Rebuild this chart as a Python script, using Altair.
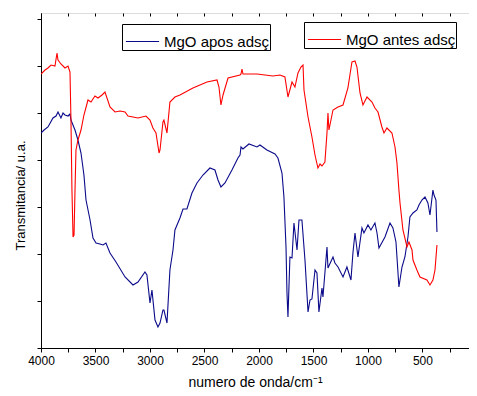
import altair as alt
import pandas as pd

# Red: MgO antes adsç
wn_red = [4000, 3963, 3936, 3908, 3872, 3853, 3844, 3817, 3780, 3752, 3734, 3725, 3716, 3706, 3697,
          3688, 3679, 3661, 3633, 3606, 3569, 3541, 3505, 3477, 3440, 3413, 3367, 3321, 3275, 3229,
          3202, 3110, 3037, 3000, 2973, 2945, 2917, 2908, 2881, 2872, 2844, 2817, 2771, 2725, 2606,
          2477, 2385, 2367, 2349, 2330, 2284, 2174, 2165, 2156, 2147, 2018, 1872, 1807, 1762, 1734,
          1697, 1670, 1642, 1615, 1596, 1587, 1550, 1514, 1486, 1459, 1440, 1422, 1395, 1376, 1367,
          1358, 1321, 1275, 1229, 1184, 1147, 1119, 1101, 1073, 1046, 1009, 963, 936, 908, 872,
          853, 826, 780, 752, 734, 716, 706, 679, 642, 624, 596, 587, 551, 523, 459, 431, 404, 385, 367]
t_red = [274, 278, 280, 283, 282, 295, 288, 284, 280, 282, 276, 228, 158, 111, 113,
         158, 198, 208, 218, 233, 248, 246, 252, 250, 253, 256, 241, 236, 237, 236,
         232, 230, 232, 228, 220, 215, 195, 198, 226, 228, 215, 246, 251, 253, 260,
         266, 268, 261, 243, 253, 270, 273, 274, 279, 274, 274, 272, 273, 271, 251,
         266, 261, 275, 281, 283, 258, 231, 211, 193, 180, 184, 182, 186, 215, 235,
         218, 238, 241, 243, 260, 286, 287, 281, 255, 243, 251, 246, 240, 236, 221,
         215, 220, 215, 201, 185, 158, 145, 118, 101, 106, 98, 88, 78, 71, 68, 63, 68, 78, 103]

# Blue: MgO apos adsç
wn_blue = [4000, 3972, 3936, 3890, 3862, 3844, 3817, 3798, 3780, 3752, 3734, 3725, 3688, 3661, 3633,
           3606, 3587, 3550, 3523, 3495, 3459, 3431, 3404, 3367, 3312, 3229, 3156, 3110, 3046, 3028,
           3000, 2982, 2954, 2927, 2908, 2881, 2872, 2844, 2817, 2789, 2771, 2725, 2697, 2661, 2615,
           2569, 2514, 2450, 2404, 2376, 2349, 2312, 2248, 2193, 2174, 2165, 2147, 2092, 2018, 1991,
           1927, 1853, 1826, 1789, 1771, 1752, 1743, 1734, 1716, 1697, 1679, 1651, 1633, 1606, 1578,
           1550, 1532, 1514, 1486, 1468, 1450, 1422, 1413, 1376, 1367, 1321, 1303, 1275, 1229, 1193,
           1156, 1138, 1119, 1092, 1055, 1037, 1000, 973, 936, 917, 899, 844, 798, 771, 743,
           716, 688, 661, 633, 615, 587, 551, 532, 505, 477, 450, 431, 404, 394, 376, 367]
t_blue = [215, 218, 221, 230, 232, 236, 230, 235, 233, 232, 234, 228, 218, 208, 195,
          173, 148, 128, 110, 105, 104, 103, 105, 95, 86, 71, 63, 66, 76, 73,
          45, 58, 28, 21, 25, 38, 38, 25, 78, 98, 118, 130, 139, 139, 155,
          165, 173, 180, 178, 168, 161, 165, 178, 190, 193, 201, 199, 204, 201, 203,
          198, 194, 190, 175, 151, 101, 55, 31, 91, 90, 125, 98, 128, 128, 88,
          36, 48, 49, 78, 75, 36, 60, 51, 101, 80, 91, 85, 81, 71, 81,
          68, 95, 115, 91, 120, 115, 123, 118, 125, 115, 100, 111, 125, 120, 106,
          61, 81, 91, 111, 131, 135, 138, 143, 148, 151, 145, 133, 158, 153, 148, 116]

label_blue = "MgO apos adsç"
label_red = "MgO antes adsç"

df_blue = pd.DataFrame({"wn": wn_blue, "t": t_blue, "s": label_blue})
df_red = pd.DataFrame({"wn": wn_red, "t": t_red, "s": label_red})

FONT = "Liberation Sans"

xscale = alt.Scale(domain=[73, 4000], reverse=True, nice=False, zero=False)
yscale = alt.Scale(domain=[0, 335], nice=False, zero=False)
ticks = list(range(250, 4001, 250))
yticks = [0, 47, 94, 141, 188, 235, 282, 329]

legend_common = dict(
    orient="none", title=None, symbolType="stroke", symbolSize=1100, symbolStrokeWidth=1.2,
    labelFontSize=15, labelFont=FONT, labelColor="black", strokeColor="black",
    padding=0, symbolOffset=3, labelOffset=4, direction="vertical",
)

blue = alt.Chart(df_blue).mark_line(strokeWidth=1.1, clip=True).encode(
    x=alt.X("wn:Q", scale=xscale,
            axis=alt.Axis(values=ticks, format="d",
                          labelExpr="datum.value % 500 == 0 ? datum.label : ''",
                          title="numero de onda/cm⁻¹", titleFontSize=14, titleFont=FONT,
                          titleFontWeight="normal", titleColor="black", titleY=34,
                          titleBaseline="middle",
                          labelFontSize=12, labelFont=FONT, labelColor="black", labelPadding=3,
                          tickSize=4, tickColor="black", domainColor="black", grid=False,
                          labelOverlap=False, labelFlush=False)),
    y=alt.Y("t:Q", scale=yscale,
            axis=alt.Axis(values=yticks, labels=False, title="Transmitancia/ u.a.",
                          titleFontSize=13, titleFont=FONT, titleFontWeight="normal",
                          titleColor="black", titleX=-21, titleY=182, titleBaseline="middle",
                          tickSize=4, tickColor="black", domainColor="black", grid=False)),
    color=alt.Color("s:N", scale=alt.Scale(domain=[label_blue], range=["#0a0a8a"]),
                    legend=alt.Legend(legendX=81, legendY=11, **legend_common)),
)

red = alt.Chart(df_red).mark_line(strokeWidth=1.1, clip=True).encode(
    x=alt.X("wn:Q", scale=xscale,
            axis=alt.Axis(orient="top", values=ticks, labels=False, title=None,
                          tickSize=3, tickColor="black", domain=False, offset=-3, grid=False)),
    y=alt.Y("t:Q", scale=yscale),
    color=alt.Color("s:N", scale=alt.Scale(domain=[label_red], range=["#ff0000"]),
                    legend=alt.Legend(legendX=263, legendY=9, **legend_common)),
)

chart = alt.layer(blue, red).resolve_scale(color="independent").resolve_axis(x="independent").properties(
    width=428, height=335,
    autosize=alt.AutoSizeParams(type="none"),
    padding={"left": 33, "top": 5, "right": 0, "bottom": 40},
).configure_view(stroke="black", strokeWidth=1.2).configure(background="white")

chart.save("out.html", embed_options={"renderer": "svg", "actions": False})
